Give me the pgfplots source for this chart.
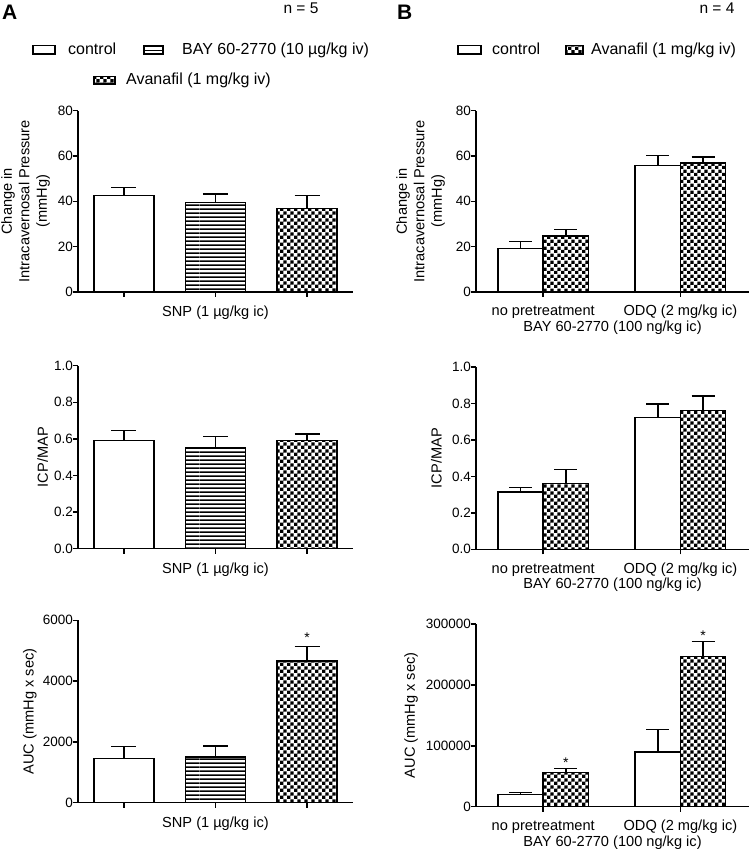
\documentclass[border=0pt]{standalone}
\usepackage{fontspec}
\setmainfont{Liberation Sans}
\usepackage{pgfplots}
\pgfplotsset{compat=1.18}
\usetikzlibrary{patterns}

\pgfdeclarepatternformonly{mycheck}{\pgfpointorigin}{\pgfqpoint{7.2pt}{7.2pt}}{\pgfqpoint{7.2pt}{7.2pt}}{%
 \pgfpathrectangle{\pgfpointorigin}{\pgfqpoint{3.6pt}{3.6pt}}%
 \pgfpathrectangle{\pgfqpoint{3.6pt}{3.6pt}}{\pgfqpoint{3.6pt}{3.6pt}}%
 \pgfusepath{fill}}
\pgfdeclarepatternformonly{myhlines}{\pgfpointorigin}{\pgfqpoint{100pt}{4.4pt}}{\pgfqpoint{100pt}{4.4pt}}{%
 \pgfpathrectangle{\pgfqpoint{0pt}{1.2pt}}{\pgfqpoint{100pt}{1.8pt}}%
 \pgfusepath{fill}}

\newcommand{\lblfont}{\fontsize{14.6}{17.5}\selectfont}
\newcommand{\tickfont}{\fontsize{13.5}{15}\selectfont}

\pgfplotsset{
 panel/.style={
  scale only axis, anchor=south west,
  axis x line*=bottom, axis y line*=left,
  axis line style={line width=1.5pt, black},
  every tick/.style={line width=1.5pt, black},
  tick align=outside, major tick length=5pt,
  ymin=0, ybar,
  tick label style={font=\tickfont},
  /pgf/number format/assume math mode=true,
  /pgf/number format/1000 sep={},
  /pgf/number format/fixed,
  scaled y ticks=false,
  yticklabel style={anchor=east, inner sep=0pt},
  xlabel style={at={(axis description cs:0.5,0)}, anchor=base, inner sep=0pt, font=\lblfont},
  ylabel style={anchor=south, inner sep=0pt, align=center, font=\lblfont},
  error bars/y dir=plus, error bars/y explicit, error bars/error mark=-,
  error bars/error bar style={line width=1.5pt, black},
 },
 panelA/.style={panel, width=275pt, xmin=-0.5, xmax=2.5, xtick={0,1,2}, xticklabels={},
   xlabel={SNP (1 µg/kg ic)}, xlabel style={yshift=-24.5pt},
   error bars/error mark options={line width=1.5pt, black, rotate=90, mark size=12.5pt}},
 panelB/.style={panel, width=273pt, xmin=-0.49, xmax=1.5, xtick={0,1},
   xticklabels={no pretreatment, ODQ (2 mg/kg ic)},
   xticklabel style={anchor=base, inner sep=0pt, yshift=-19pt, font=\lblfont},
   xlabel={BAY 60-2770 (100 ng/kg ic)}, xlabel style={yshift=-39.5pt},
   error bars/error mark options={line width=1.5pt, black, rotate=90, mark size=11.5pt}},
 barA/.style={draw=black, line width=1.5pt, bar width=0.655, bar shift=0},
 barB/.style={draw=black, line width=1.5pt, bar width=0.33},
}

\begin{document}
\begin{tikzpicture}
\useasboundingbox (0,0) rectangle (750pt,849pt);

% ---------- Panel labels and legends ----------
\node[anchor=base west, inner sep=0pt, font=\fontsize{21}{21}\selectfont\bfseries] at (2pt,829pt) {A};
\node[anchor=base west, inner sep=0pt, font=\fontsize{21}{21}\selectfont\bfseries] at (397pt,829pt) {B};
\node[anchor=base, inner sep=0pt, font=\fontsize{15.5}{17}\selectfont] at (301pt,835pt) {n = 5};
\node[anchor=base, inner sep=0pt, font=\fontsize{15.5}{17}\selectfont] at (717pt,835pt) {n = 4};

\draw[line width=1.2pt, fill=white] (33pt,795pt) rectangle (55pt,803.3pt);
\node[anchor=base west, inner sep=0pt, font=\fontsize{16}{18}\selectfont] at (68pt,794.2pt) {control};
\fill[pattern=myhlines] (144pt,795pt) rectangle (163pt,803.3pt);
\draw[line width=1.2pt] (144pt,795pt) rectangle (163pt,803.3pt);
\node[anchor=base west, inner sep=0pt, font=\fontsize{16}{18}\selectfont] at (182pt,794.2pt) {BAY 60-2770 (10 µg/kg iv)};
\fill[pattern=mycheck] (94pt,765pt) rectangle (115pt,772.3pt);
\draw[line width=1.2pt] (94pt,765pt) rectangle (115pt,772.3pt);
\node[anchor=base west, inner sep=0pt, font=\fontsize{16}{18}\selectfont] at (126pt,764.2pt) {Avanafil (1 mg/kg iv)};

\draw[line width=1.2pt, fill=white] (458pt,795pt) rectangle (481pt,803.3pt);
\node[anchor=base west, inner sep=0pt, font=\fontsize{16}{18}\selectfont] at (492pt,794.2pt) {control};
\fill[pattern=mycheck] (566pt,795pt) rectangle (583pt,803.3pt);
\draw[line width=1.2pt] (566pt,795pt) rectangle (583pt,803.3pt);
\node[anchor=base west, inner sep=0pt, font=\fontsize{16}{18}\selectfont] at (591pt,794.2pt) {Avanafil (1 mg/kg iv)};

% ---------- A top ----------
\begin{axis}[panelA, at={(78pt,557pt)}, height=181.3pt, ymax=80, ytick={0,20,40,60,80},
  ylabel={Change in\\Intracavernosal Pressure\\(mmHg)},
  ylabel style={at={(axis description cs:-0.1018,0.5)}}]
\addplot[barA, fill=white] coordinates {(0,42.5) +- (0,3.6)};
\addplot[barA, pattern=myhlines] coordinates {(1,39.5) +- (0,3.7)};
\addplot[barA, pattern=mycheck] coordinates {(2,36.9) +- (0,5.7)};
\end{axis}

% ---------- A middle ----------
\begin{axis}[panelA, at={(78pt,300.3pt)}, height=183pt, ymax=1, ytick={0,0.2,0.4,0.6,0.8,1.0},
  yticklabel style={/pgf/number format/.cd, fixed, fixed zerofill, precision=1},
  ylabel={ICP/MAP},
  ylabel style={at={(axis description cs:-0.108,0.5)}}]
\addplot[barA, fill=white] coordinates {(0,0.590) +- (0,0.057)};
\addplot[barA, pattern=myhlines] coordinates {(1,0.549) +- (0,0.065)};
\addplot[barA, pattern=mycheck] coordinates {(2,0.592) +- (0,0.036)};
\end{axis}

% ---------- A bottom ----------
\begin{axis}[panelA, at={(78pt,46.3pt)}, height=182.4pt, ymax=6000, ytick={0,2000,4000,6000},
  ylabel={AUC (mmHg x sec)},
  ylabel style={at={(axis description cs:-0.150,0.5)}}]
\addplot[barA, fill=white] coordinates {(0,1461) +- (0,382)};
\addplot[barA, pattern=myhlines] coordinates {(1,1504) +- (0,362)};
\addplot[barA, pattern=mycheck] coordinates {(2,4654) +- (0,481)};
\node[anchor=base, inner sep=0pt, font=\fontsize{14}{14}\selectfont] at (axis cs:2,5135) [yshift=4pt] {*};
\end{axis}

% ---------- B top ----------
\begin{axis}[panelB, at={(476pt,557pt)}, height=181.3pt, ymax=80, ytick={0,20,40,60,80},
  ylabel={Change in\\Intracavernosal Pressure\\(mmHg)},
  ylabel style={at={(axis description cs:-0.1136,0.5)}}]
\addplot[barB, bar shift=-0.165, fill=white] coordinates {(0,19.3) +- (0,2.9) (1,55.8) +- (0,4.5)};
\addplot[barB, bar shift=0.165, pattern=mycheck] coordinates {(0,24.8) +- (0,2.7) (1,57.0) +- (0,2.6)};
\end{axis}

% ---------- B middle ----------
\begin{axis}[panelB, at={(476pt,299.7pt)}, height=182.3pt, ymax=1, ytick={0,0.2,0.4,0.6,0.8,1.0},
  yticklabel style={/pgf/number format/.cd, fixed, fixed zerofill, precision=1},
  ylabel={ICP/MAP},
  ylabel style={at={(axis description cs:-0.1245,0.5)}}]
\addplot[barB, bar shift=-0.165, fill=white] coordinates {(0,0.314) +- (0,0.026) (1,0.724) +- (0,0.073)};
\addplot[barB, bar shift=0.165, pattern=mycheck] coordinates {(0,0.360) +- (0,0.077) (1,0.762) +- (0,0.079)};
\end{axis}

% ---------- B bottom ----------
\begin{axis}[panelB, at={(476pt,42.3pt)}, height=182.7pt, ymax=300000, ytick={0,100000,200000,300000},
  yticklabel style={/pgf/number format/.cd, fixed, precision=0, 1000 sep={}},
  ylabel={AUC (mmHg x sec)},
  ylabel style={at={(axis description cs:-0.2125,0.5)}}]
\addplot[barB, bar shift=-0.165, fill=white] coordinates {(0,19700) +- (0,3300) (1,89800) +- (0,37200)};
\addplot[barB, bar shift=0.165, pattern=mycheck] coordinates {(0,56500) +- (0,5900) (1,246300) +- (0,24700)};
\node[anchor=base, inner sep=0pt, font=\fontsize{14}{14}\selectfont] at (axis cs:0.165,62400) [yshift=1pt] {*};
\node[anchor=base, inner sep=0pt, font=\fontsize{14}{14}\selectfont] at (axis cs:1.165,271000) [yshift=1.5pt] {*};
\end{axis}
\end{tikzpicture}
\end{document}
